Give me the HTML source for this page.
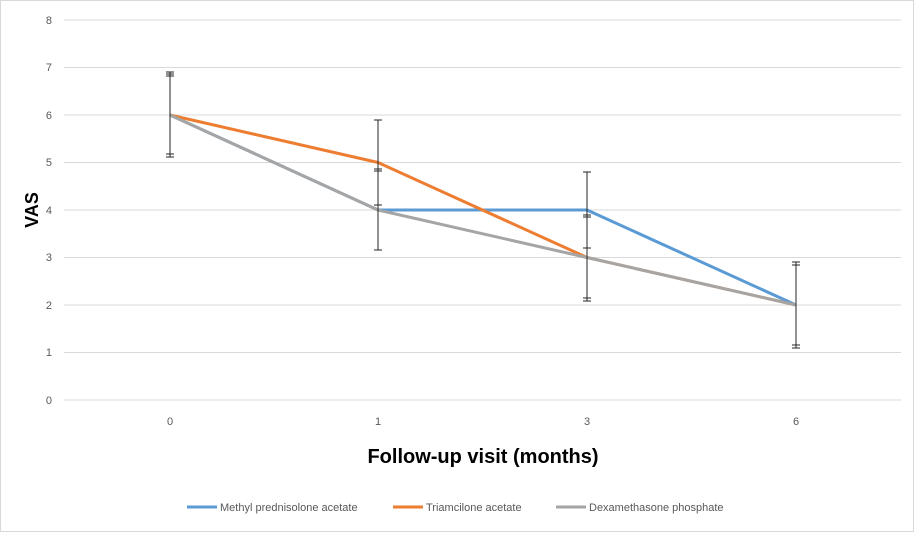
<!DOCTYPE html>
<html><head><meta charset="utf-8"><style>
body{margin:0;background:#fff}
svg{display:block}
text{font-family:"Liberation Sans",sans-serif}
</style></head><body>
<svg width="916" height="534" viewBox="0 0 916 534">
<rect x="0.5" y="0.5" width="913" height="531" fill="#fff" stroke="#d9d9d9"/>
<g stroke="#d9d9d9" stroke-width="1">
<line x1="64" x2="901" y1="20" y2="20"/><line x1="64" x2="901" y1="67.5" y2="67.5"/>
<line x1="64" x2="901" y1="115" y2="115"/><line x1="64" x2="901" y1="162.5" y2="162.5"/>
<line x1="64" x2="901" y1="210" y2="210"/><line x1="64" x2="901" y1="257.5" y2="257.5"/>
<line x1="64" x2="901" y1="305" y2="305"/><line x1="64" x2="901" y1="352.5" y2="352.5"/>
<line x1="64" x2="901" y1="400" y2="400"/>
</g>
<g font-size="11" fill="#595959" text-anchor="end">
<text x="52" y="24">8</text><text x="52" y="71">7</text><text x="52" y="119">6</text>
<text x="52" y="166">5</text><text x="52" y="214">4</text><text x="52" y="261">3</text>
<text x="52" y="309">2</text><text x="52" y="356">1</text><text x="52" y="404">0</text>
</g>
<g font-size="11" fill="#595959" text-anchor="middle">
<text x="170" y="425">0</text><text x="378" y="425">1</text><text x="587" y="425">3</text><text x="796" y="425">6</text>
</g>
<text x="483" y="463" font-size="20" font-weight="bold" text-anchor="middle" fill="#000">Follow-up visit (months)</text>
<text transform="translate(38,210) rotate(-90)" font-size="18" font-weight="bold" text-anchor="middle" fill="#000">VAS</text>
<g fill="none" stroke-width="3" stroke-linejoin="round">
<polyline stroke="#5b9bd5" points="170,115 378,210 587,210 796,305"/>
<polyline stroke="#ed7d31" points="170,115 378,162.5 587,257.5 796,305"/>
<polyline stroke="#a5a5a5" points="170,115 378,210 587,257.5 796,305"/>
</g>
<g stroke="#262626" stroke-width="1">
<line x1="170" x2="170" y1="72" y2="157"/>
<line x1="166" x2="174" y1="72" y2="72"/><line x1="166" x2="174" y1="74" y2="74"/><line x1="166" x2="174" y1="76" y2="76"/>
<line x1="166" x2="174" y1="154" y2="154"/><line x1="166" x2="174" y1="157" y2="157"/>
<line x1="378" x2="378" y1="120" y2="250"/>
<line x1="374" x2="382" y1="120" y2="120"/><line x1="374" x2="382" y1="169" y2="169"/><line x1="374" x2="382" y1="171" y2="171"/>
<line x1="374" x2="382" y1="205" y2="205"/><line x1="374" x2="382" y1="250" y2="250"/>
<line x1="587" x2="587" y1="172" y2="301"/>
<line x1="583" x2="591" y1="172" y2="172"/><line x1="583" x2="591" y1="215" y2="215"/><line x1="583" x2="591" y1="217" y2="217"/>
<line x1="583" x2="591" y1="248" y2="248"/><line x1="583" x2="591" y1="298" y2="298"/><line x1="583" x2="591" y1="301" y2="301"/>
<line x1="796" x2="796" y1="262" y2="348"/>
<line x1="792" x2="800" y1="262" y2="262"/><line x1="792" x2="800" y1="265" y2="265"/>
<line x1="792" x2="800" y1="345" y2="345"/><line x1="792" x2="800" y1="348" y2="348"/>
</g>
<g font-size="11" fill="#595959">
<line x1="187" x2="217" y1="507" y2="507" stroke="#5b9bd5" stroke-width="3"/>
<text x="220" y="511">Methyl prednisolone acetate</text>
<line x1="393" x2="423" y1="507" y2="507" stroke="#ed7d31" stroke-width="3"/>
<text x="426" y="511">Triamcilone acetate</text>
<line x1="556" x2="586" y1="507" y2="507" stroke="#a5a5a5" stroke-width="3"/>
<text x="589" y="511">Dexamethasone phosphate</text>
</g>
</svg>
</body></html>
